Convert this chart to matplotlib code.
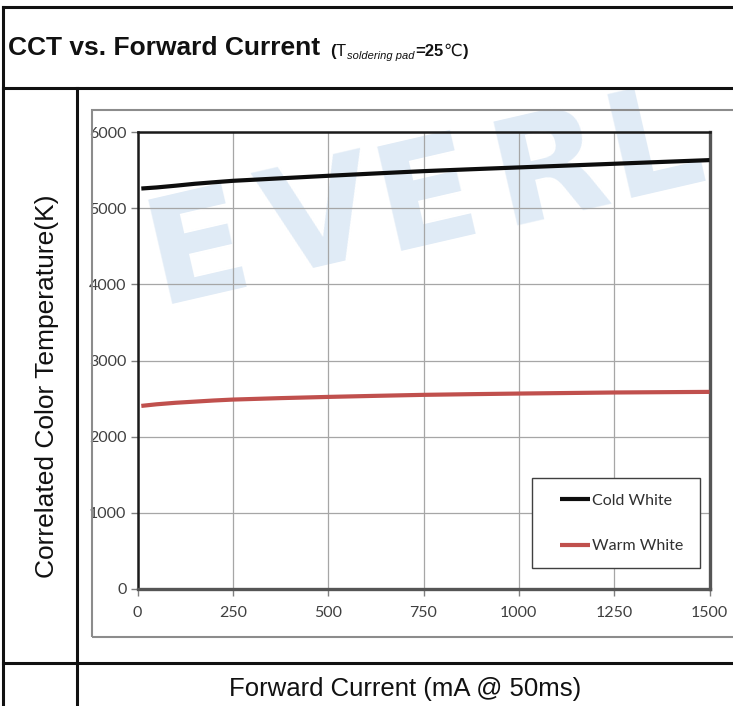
import matplotlib
matplotlib.use("Agg")
import math
import matplotlib.pyplot as plt
from matplotlib.patches import Rectangle
from matplotlib.lines import Line2D

# ---- data ----
current_mA = [10, 50, 100, 150, 200, 250, 375, 500, 625, 750, 875, 1000, 1125, 1250, 1375, 1500]
cold_white_K = [5258, 5272, 5295, 5320, 5340, 5359, 5392, 5425, 5456, 5486, 5511, 5535, 5559, 5583, 5607, 5631]
warm_white_K = [2404, 2425, 2445, 2460, 2475, 2487, 2506, 2522, 2536, 2549, 2558, 2566, 2573, 2580, 2584, 2588]
x_ticks = [0, 250, 500, 750, 1000, 1250, 1500]
y_ticks = [0, 1000, 2000, 3000, 4000, 5000, 6000]
series_names = ["Cold White", "Warm White"]
watermark = "EVERL"

W, H = 733, 706
fig = plt.figure(figsize=(W / 100, H / 100), dpi=100)
fig.patch.set_facecolor("white")

def fx(x):
    return x / W

def fy(y):
    return 1 - y / H

ARIAL = ["Liberation Sans", "DejaVu Sans"]
TICKF = ["Lato", "DejaVu Sans"]

# ---- table lines ----
tl = dict(color="#111111", lw=2.2, transform=fig.transFigure, zorder=10)
fig.add_artist(Line2D([fx(3), fx(3)], [fy(7), fy(706)], **tl))
fig.add_artist(Line2D([fx(3), fx(733)], [fy(7), fy(7)], **tl))
fig.add_artist(Line2D([fx(3), fx(733)], [fy(88), fy(88)], **tl))
fig.add_artist(Line2D([fx(77), fx(77)], [fy(88), fy(706)], **tl))
fig.add_artist(Line2D([fx(3), fx(733)], [fy(663), fy(663)], **tl))

# ---- chart area frame ----
fig.add_artist(Rectangle((fx(92), fy(637)), fx(740) - fx(92), fy(110) - fy(637),
                         transform=fig.transFigure, fill=False,
                         edgecolor="#8c8c8c", lw=1.5, zorder=1))

# ---- watermark (letter by letter, wide spacing) ----
ang = 13.0
step = 118.0
x0, y0 = 158.0, 304.0
for i, ch in enumerate(watermark):
    xi = x0 + i * step * math.cos(math.radians(ang))
    yi = y0 - i * step * math.sin(math.radians(ang))
    fig.text(fx(xi), fy(yi), ch, fontsize=106, fontweight="heavy",
             family=["DejaVu Sans"], color="#e0ebf6", rotation=ang,
             rotation_mode="anchor", ha="left", va="baseline", zorder=-1)

# ---- title ----
fig.text(fx(8), fy(48), "CCT vs. Forward Current", fontsize=19, fontweight="bold",
         family=ARIAL, ha="left", va="center", color="#111111")

pieces = [
    ("(", dict(fontsize=12, fontweight="bold", family=ARIAL), 0),
    ("T", dict(fontsize=12, family=ARIAL), 0),
    ("soldering pad", dict(fontsize=8, style="italic", family=ARIAL), -3),
    ("=25", dict(fontsize=12, fontweight="bold", family=ARIAL), 0),
    ("\u2103", dict(fontsize=12, family=["DejaVu Sans", "Noto Sans CJK SC"]), 0),
    (")", dict(fontsize=12, fontweight="bold", family=ARIAL), 0),
]
renderer = fig.canvas.get_renderer()
xpos = 330.0
base = 56.0
for txt, kw, dy in pieces:
    t = fig.text(fx(xpos), fy(base - dy), txt, ha="left", va="baseline",
                 color="#111111", **kw)
    bb = t.get_window_extent(renderer=renderer)
    xpos += bb.width + 0.5

# ---- axis labels (table cells) ----
fig.text(fx(47), fy(386), "Correlated Color Temperature(K)", fontsize=19,
         family=ARIAL, rotation=90, ha="center", va="center", color="#111111")
fig.text(fx(405), fy(689), "Forward Current (mA @ 50ms)", fontsize=18.5,
         family=ARIAL, ha="center", va="center", color="#111111")

# ---- plot ----
ax = fig.add_axes([fx(137.5), fy(589), fx(709.5) - fx(137.5), fy(132) - fy(589)])
ax.set_facecolor("none")
ax.plot(current_mA, cold_white_K, color="#0d0d0d", lw=3.0, label=series_names[0],
        solid_capstyle="butt", zorder=3)
ax.plot(current_mA, warm_white_K, color="#c0504d", lw=3.0, label=series_names[1],
        solid_capstyle="butt", zorder=3)
ax.set_xlim(0, 1500)
ax.set_ylim(0, 6000)
ax.set_xticks(x_ticks)
ax.set_yticks(y_ticks)
ax.set_xticklabels([str(v) for v in x_ticks], family=TICKF, fontsize=11.5, color="#404040")
ax.set_yticklabels([str(v) for v in y_ticks], family=TICKF, fontsize=11.5, color="#404040")
ax.tick_params(axis="both", direction="out", length=5, width=1, color="#808080")
ax.tick_params(axis="x", pad=7)
ax.tick_params(axis="y", pad=3)
ax.grid(True, color="#a6a6a6", lw=0.9, zorder=0)
ax.set_axisbelow(True)
for side in ["top", "left"]:
    ax.spines[side].set_color("#1a1a1a")
    ax.spines[side].set_linewidth(1.8)
for side in ["right", "bottom"]:
    ax.spines[side].set_color("#555555")
    ax.spines[side].set_linewidth(2.4)

# legend box
ax.add_patch(Rectangle((0.690, 0.046), 0.293, 0.197, transform=ax.transAxes,
                       facecolor="white", edgecolor="#404040", lw=1.0, zorder=4))
ax.legend(loc="center left", bbox_to_anchor=(0.7246, 0.143), frameon=False,
          borderpad=0, handlelength=1.9, handletextpad=0.1, labelspacing=1.95,
          prop={"family": TICKF, "size": 11.5}, labelcolor="#303030")

fig.savefig("out.png", dpi=100, facecolor="white")
